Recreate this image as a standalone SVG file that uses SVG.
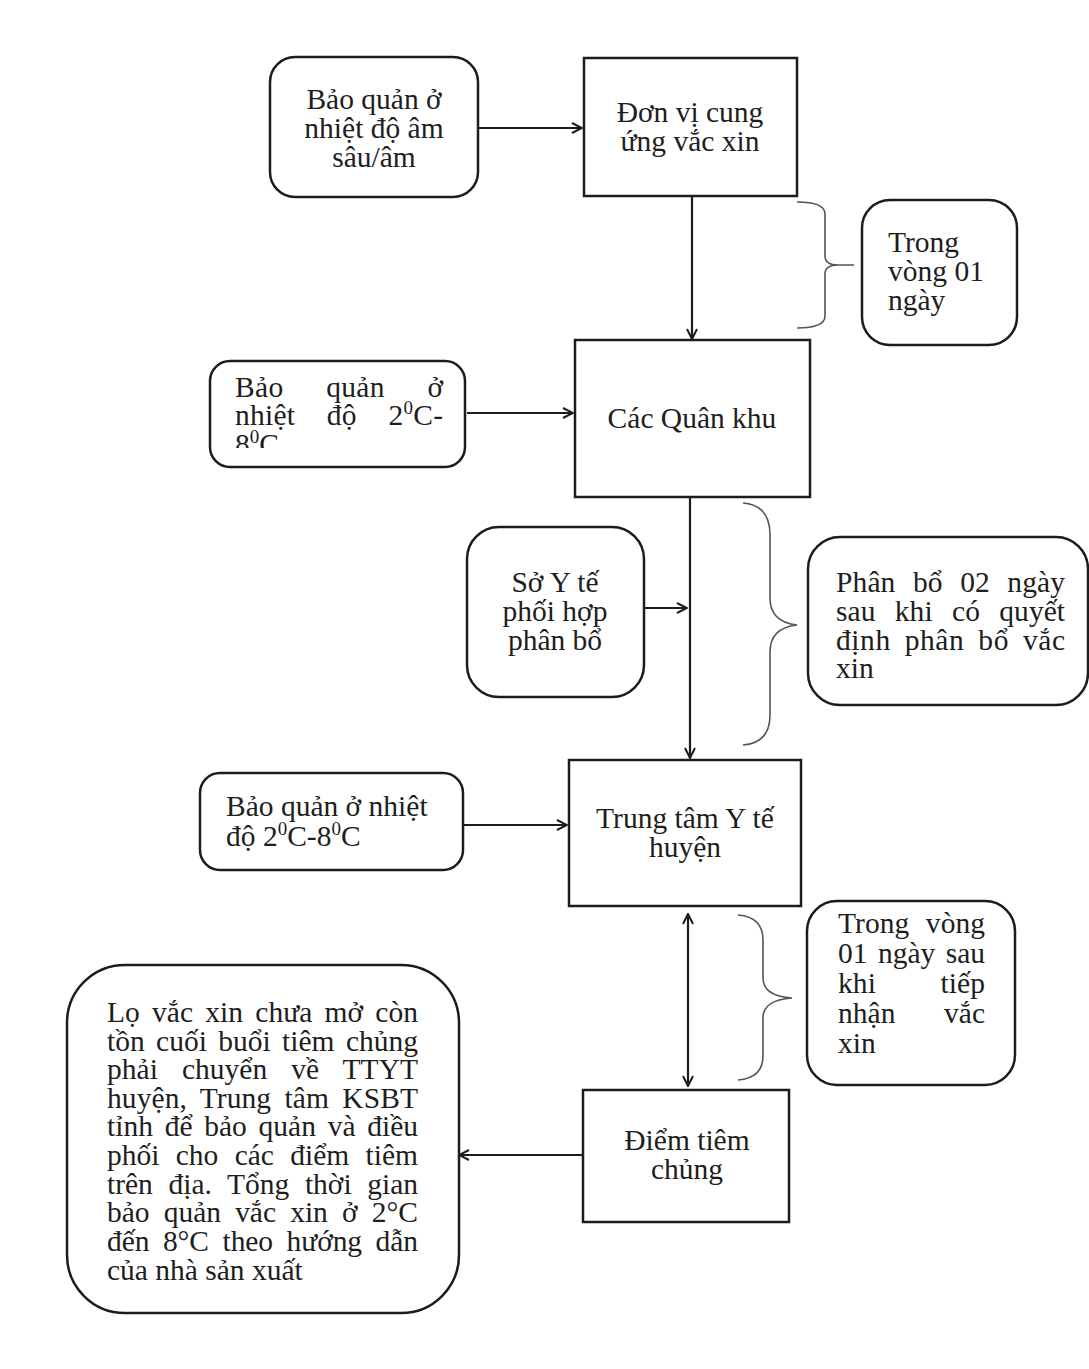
<svg xmlns="http://www.w3.org/2000/svg" width="1089" height="1369" viewBox="0 0 1089 1369">
<style>
.box{fill:none;stroke:#1c1c1c;stroke-width:2.5}
.t{font-family:"Liberation Serif","Times New Roman",serif;font-size:29.5px;fill:#1e1e1e}
.c{text-anchor:middle}
.con{fill:none;stroke:#1c1c1c;stroke-width:2.2}
.brace{fill:none;stroke:#555;stroke-width:1.6}
</style>
<defs>
<marker id="ah" viewBox="0 0 12 12" refX="11" refY="6" markerWidth="12" markerHeight="12" markerUnits="userSpaceOnUse" orient="auto-start-reverse">
<path d="M1,1 L11,6 L1,11" fill="none" stroke="#1c1c1c" stroke-width="2"/>
</marker>
<clipPath id="clipD"><rect x="210" y="361" width="255" height="87"/></clipPath>
</defs>
<rect width="1089" height="1369" fill="#ffffff"/>

<g id="connectors">
<path class="con" d="M478,128 L582,128" marker-end="url(#ah)"/>
<path class="con" d="M692,196 L692,339" marker-end="url(#ah)"/>
<path class="con" d="M467,413 L573,413" marker-end="url(#ah)"/>
<path class="con" d="M690,497 L690,758" marker-end="url(#ah)"/>
<path class="con" d="M645,608 L687,608" marker-end="url(#ah)"/>
<path class="con" d="M463,825 L567,825" marker-end="url(#ah)"/>
<path class="con" d="M688,914 L688,1086" marker-start="url(#ah)" marker-end="url(#ah)"/>
<path class="con" d="M583,1155 L459,1155" marker-end="url(#ah)"/>
<path class="brace" d="M797,202 Q825,202 825,214 L825,256 Q825,265 838,265 L854,265 M838,265 Q825,265 825,274 L825,316 Q825,328 797,328"/>
<path class="brace" d="M743,503 Q770,505 770,535 L770,598 Q770,622 797,625 Q770,628 770,652 L770,715 Q770,743 743,745"/>
<path class="brace" d="M738,915 Q763,917 763,940 L763,978 Q763,996 792,998 Q763,1000 763,1018 L763,1056 Q763,1078 738,1080"/>
</g>

<g id="node-bao-quan-am">
<rect class="box" x="270" y="57" width="208" height="140" rx="25"/>
<text class="t c" x="374" y="109">Bảo quản ở</text>
<text class="t c" x="374" y="138">nhiệt độ âm</text>
<text class="t c" x="374" y="167">sâu/âm</text>
</g>

<g id="node-don-vi">
<rect class="box" x="584" y="58" width="213" height="138"/>
<text class="t c" x="690" y="122">Đơn vị cung</text>
<text class="t c" x="690" y="151">ứng vắc xin</text>
</g>

<g id="node-trong-vong-1">
<rect class="box" x="862" y="200" width="155" height="145" rx="28"/>
<text class="t" x="888" y="252">Trong</text>
<text class="t" x="888" y="281">vòng 01</text>
<text class="t" x="888" y="310">ngày</text>
</g>

<g id="node-quan-khu">
<rect class="box" x="575" y="340" width="235" height="157"/>
<text class="t c" x="692" y="428">Các Quân khu</text>
</g>

<g id="node-bao-quan-2-8-a">
<rect class="box" x="210" y="361" width="255" height="106" rx="20"/>
<g clip-path="url(#clipD)">
<text class="t" x="235" y="397" textLength="208" lengthAdjust="spacing" style="word-spacing:35px">Bảo quản ở</text>
<text class="t" x="235" y="425" textLength="208" lengthAdjust="spacing" style="word-spacing:24px">nhiệt độ 2<tspan font-size="19" dy="-11">0</tspan><tspan dy="11">C-</tspan></text>
<text class="t" x="235" y="454">8<tspan font-size="19" dy="-11">0</tspan><tspan dy="11">C</tspan></text>
</g>
</g>

<g id="node-so-y-te">
<rect class="box" x="467" y="527" width="177" height="170" rx="32"/>
<text class="t c" x="555" y="592">Sở Y tế</text>
<text class="t c" x="555" y="621">phối hợp</text>
<text class="t c" x="555" y="650">phân bổ</text>
</g>

<g id="node-phan-bo">
<rect class="box" x="808" y="537" width="280" height="168" rx="32"/>
<text class="t" x="836" y="592" textLength="229" lengthAdjust="spacing" style="word-spacing:10px">Phân bổ 02 ngày</text>
<text class="t" x="836" y="621" textLength="229" lengthAdjust="spacing" style="word-spacing:12px">sau khi có quyết</text>
<text class="t" x="836" y="650" textLength="229" lengthAdjust="spacing" style="word-spacing:6px">định phân bổ vắc</text>
<text class="t" x="836" y="678">xin</text>
</g>

<g id="node-ttyt-huyen">
<rect class="box" x="569" y="760" width="232" height="146"/>
<text class="t c" x="685" y="828">Trung tâm Y tế</text>
<text class="t c" x="685" y="857">huyện</text>
</g>

<g id="node-bao-quan-2-8-b">
<rect class="box" x="200" y="773" width="263" height="97" rx="20"/>
<text class="t" x="226" y="816">Bảo quản ở nhiệt</text>
<text class="t" x="226" y="846">độ 2<tspan font-size="19" dy="-11">0</tspan><tspan dy="11">C-8</tspan><tspan font-size="19" dy="-11">0</tspan><tspan dy="11">C</tspan></text>
</g>

<g id="node-trong-vong-2">
<rect class="box" x="807" y="901" width="208" height="184" rx="30"/>
<text class="t" x="838" y="933" textLength="147" lengthAdjust="spacing" style="word-spacing:9px">Trong vòng</text>
<text class="t" x="838" y="963" textLength="147" lengthAdjust="spacing" style="word-spacing:3px">01 ngày sau</text>
<text class="t" x="838" y="993" textLength="147" lengthAdjust="spacing" style="word-spacing:57px">khi tiếp</text>
<text class="t" x="838" y="1023" textLength="147" lengthAdjust="spacing" style="word-spacing:41px">nhận vắc</text>
<text class="t" x="838" y="1053">xin</text>
</g>

<g id="node-diem-tiem">
<rect class="box" x="583" y="1090" width="206" height="132"/>
<text class="t c" x="687" y="1150">Điểm tiêm</text>
<text class="t c" x="687" y="1179">chủng</text>
</g>

<g id="node-lo-vac-xin">
<rect class="box" x="67" y="965" width="392" height="348" rx="58"/>
<text class="t" x="107" y="1022" textLength="311" lengthAdjust="spacing" style="word-spacing:4.8px">Lọ vắc xin chưa mở còn</text>
<text class="t" x="107" y="1051" textLength="311" lengthAdjust="spacing" style="word-spacing:4px">tồn cuối buổi tiêm chủng</text>
<text class="t" x="107" y="1079" textLength="311" lengthAdjust="spacing" style="word-spacing:16.6px">phải chuyển về TTYT</text>
<text class="t" x="107" y="1108" textLength="311" lengthAdjust="spacing" style="word-spacing:5.9px">huyện, Trung tâm KSBT</text>
<text class="t" x="107" y="1136" textLength="311" lengthAdjust="spacing" style="word-spacing:4.4px">tỉnh để bảo quản và điều</text>
<text class="t" x="107" y="1165" textLength="311" lengthAdjust="spacing" style="word-spacing:8.9px">phối cho các điểm tiêm</text>
<text class="t" x="107" y="1194" textLength="311" lengthAdjust="spacing" style="word-spacing:8.3px">trên địa. Tổng thời gian</text>
<text class="t" x="107" y="1222" textLength="311" lengthAdjust="spacing" style="word-spacing:6.9px">bảo quản vắc xin ở 2°C</text>
<text class="t" x="107" y="1251" textLength="311" lengthAdjust="spacing" style="word-spacing:6.4px">đến 8°C theo hướng dẫn</text>
<text class="t" x="107" y="1280">của nhà sản xuất</text>
</g>
</svg>
